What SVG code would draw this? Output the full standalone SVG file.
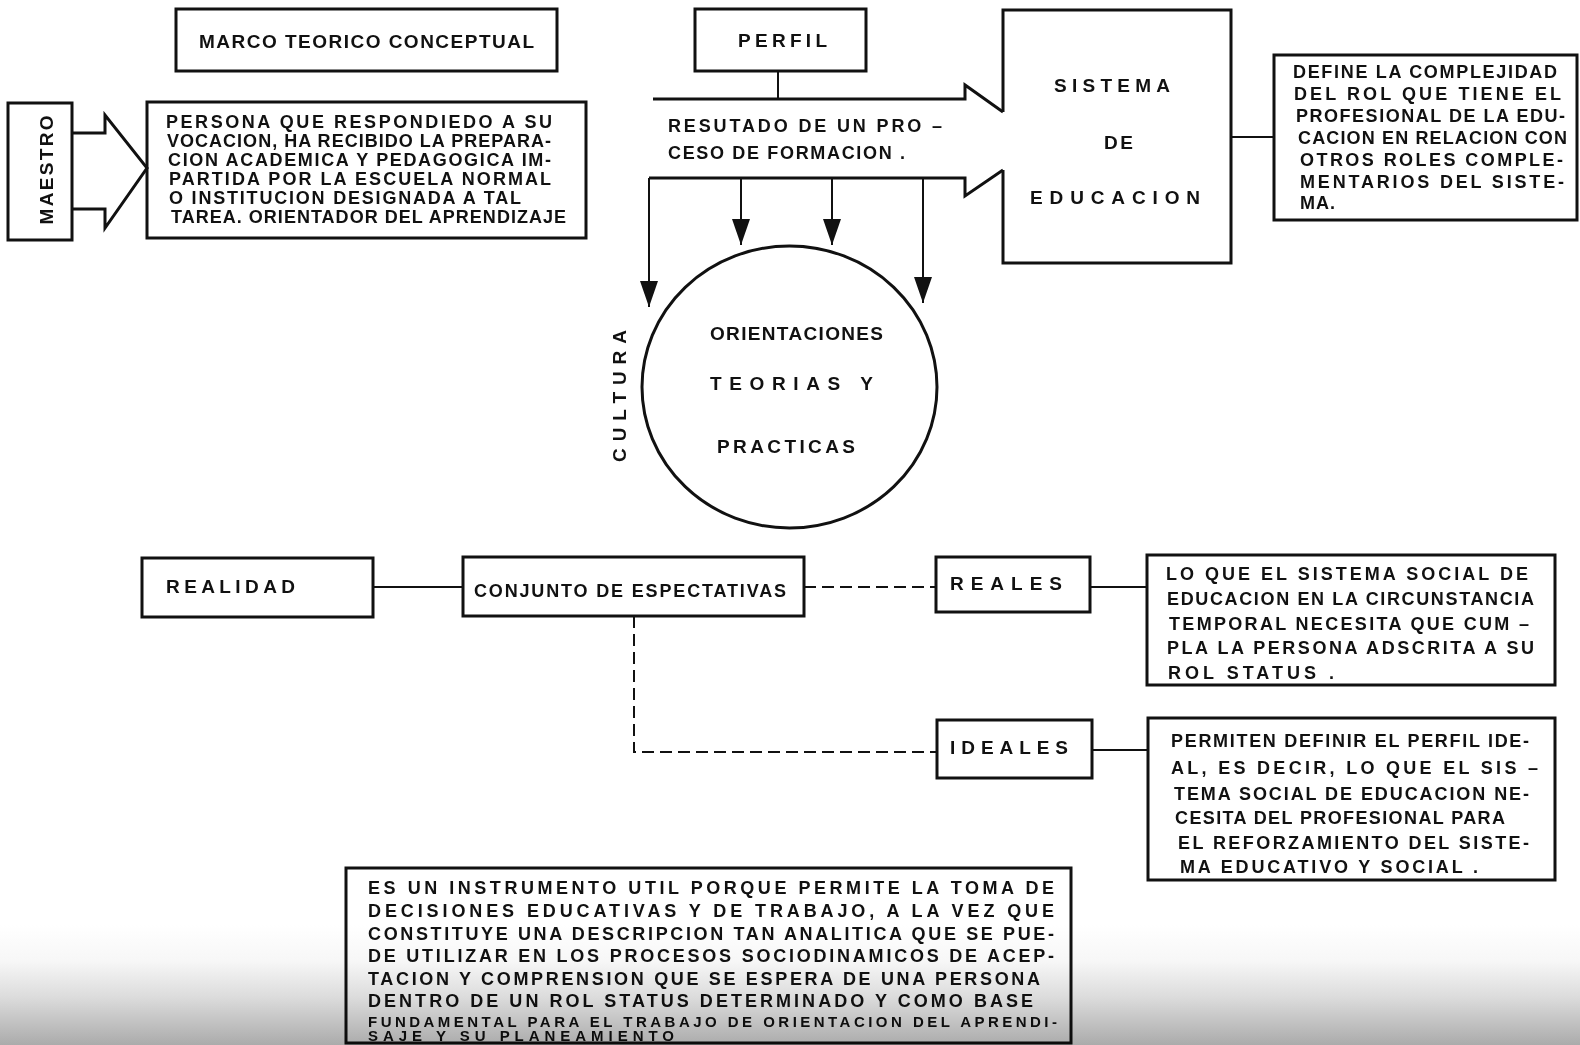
<svg xmlns="http://www.w3.org/2000/svg" width="1580" height="1045" viewBox="0 0 1580 1045">
<style>
.box{fill:none;stroke:#111;stroke-width:3}
.ln{fill:none;stroke:#111;stroke-width:2}
.band{fill:none;stroke:#111;stroke-width:3;stroke-linejoin:miter}
.dash{fill:none;stroke:#111;stroke-width:2;stroke-dasharray:12 6}
text{font-family:"Liberation Sans",Arial,sans-serif;font-weight:bold;font-size:18px;fill:#111}
.sm{font-size:15px}
.big{font-size:19px}
</style>
<defs>
<marker id="ah" viewBox="0 0 26 18" refX="26" refY="9" markerWidth="26" markerHeight="18" markerUnits="userSpaceOnUse" orient="auto">
<path d="M0,0 L26,9 L0,18 z" fill="#111"/>
</marker>
<linearGradient id="fade" gradientUnits="userSpaceOnUse" x1="0" y1="925" x2="0" y2="1045">
<stop offset="0" stop-color="#ffffff"/>
<stop offset="0.3" stop-color="#f7f7f7"/>
<stop offset="0.6" stop-color="#dcdcdc"/>
<stop offset="1" stop-color="#ababab"/>
</linearGradient>
</defs>
<rect width="1580" height="1045" fill="#fff"/>

<g id="connectors">
<path class="box" d="M72,133 H105 V115 L147,168 L105,228 V209 H72"/>
<line class="ln" x1="778" y1="71" x2="778" y2="99"/>
<path class="band" d="M653,99 H965 V85 L1003,112"/>
<path class="band" d="M1003,170 L965,196 V178 H649"/>
<line class="ln" x1="649" y1="178" x2="649" y2="307" marker-end="url(#ah)"/>
<line class="ln" x1="741" y1="178" x2="741" y2="245" marker-end="url(#ah)"/>
<line class="ln" x1="832" y1="178" x2="832" y2="245" marker-end="url(#ah)"/>
<line class="ln" x1="923" y1="178" x2="923" y2="303" marker-end="url(#ah)"/>
<line class="ln" x1="1231" y1="137" x2="1274" y2="137"/>
<line class="ln" x1="373" y1="587" x2="463" y2="587"/>
<line class="dash" x1="804" y1="587" x2="936" y2="587"/>
<path class="dash" d="M634,616 V752 H937"/>
<line class="ln" x1="1090" y1="587" x2="1147" y2="587"/>
<line class="ln" x1="1092" y1="750" x2="1148" y2="750"/>
</g>

<g id="marco">
<rect class="box" x="176" y="9" width="381" height="62"/>
<text class="big" x="199" y="48" textLength="335">MARCO  TEORICO  CONCEPTUAL</text>
</g>

<g id="perfil">
<rect class="box" x="695" y="9" width="171" height="62"/>
<text class="big" x="738" y="47" textLength="89">PERFIL</text>
<text x="668" y="132" textLength="274">RESUTADO  DE  UN  PRO –</text>
<text x="668" y="159" textLength="237">CESO  DE  FORMACION .</text>
</g>

<g id="maestro">
<rect class="box" x="8" y="103" width="64" height="137"/>
<text class="big" transform="translate(53,170) rotate(-90)" text-anchor="middle" textLength="109">MAESTRO</text>
</g>

<g id="persona">
<rect class="box" x="147" y="102" width="439" height="136"/>
<text x="166" y="128" textLength="386">PERSONA  QUE  RESPONDIEDO  A  SU</text>
<text x="167" y="147" textLength="384">VOCACION, HA RECIBIDO LA PREPARA-</text>
<text x="168" y="166" textLength="383">CION ACADEMICA Y PEDAGOGICA IM-</text>
<text x="169" y="185" textLength="382">PARTIDA POR LA ESCUELA NORMAL</text>
<text x="169" y="204" textLength="352">O INSTITUCION DESIGNADA A TAL</text>
<text x="171" y="223" textLength="395">TAREA. ORIENTADOR  DEL APRENDIZAJE</text>
</g>

<g id="sistema">
<path class="box" d="M1003,112 V10 H1231 V263 H1003 V170"/>
<text class="big" x="1054" y="92" textLength="116">SISTEMA</text>
<text class="big" x="1104" y="149" textLength="29">DE</text>
<text class="big" x="1030" y="204" textLength="170">EDUCACION</text>
</g>

<g id="define">
<rect class="box" x="1274" y="55" width="303" height="165"/>
<text x="1293" y="78" textLength="264">DEFINE  LA  COMPLEJIDAD</text>
<text x="1294" y="100" textLength="267">DEL  ROL  QUE  TIENE EL</text>
<text x="1296" y="122" textLength="269">PROFESIONAL DE LA EDU-</text>
<text x="1298" y="144" textLength="269">CACION EN RELACION CON</text>
<text x="1300" y="166" textLength="263">OTROS ROLES  COMPLE-</text>
<text x="1300" y="188" textLength="264">MENTARIOS  DEL  SISTE-</text>
<text x="1300" y="209" textLength="35">MA.</text>
</g>

<g id="orientaciones">
<ellipse cx="789.5" cy="387" rx="147.5" ry="141" fill="none" stroke="#111" stroke-width="3"/>
<text class="big" x="710" y="340" textLength="173">ORIENTACIONES</text>
<text class="big" x="710" y="390" textLength="163">TEORIAS    Y</text>
<text class="big" x="717" y="453" textLength="138">PRACTICAS</text>
</g>

<g id="cultura">
<text class="big" transform="translate(626,396) rotate(-90)" text-anchor="middle" textLength="132">CULTURA</text>
</g>

<g id="realidad">
<rect class="box" x="142" y="558" width="231" height="59"/>
<text class="big" x="166" y="593" textLength="129">REALIDAD</text>
</g>

<g id="conjunto">
<rect class="box" x="463" y="557" width="341" height="59"/>
<text x="474" y="597" textLength="312">CONJUNTO  DE  ESPECTATIVAS</text>
</g>

<g id="reales">
<rect class="box" x="936" y="557" width="154" height="55"/>
<text class="big" x="950" y="590" textLength="112">REALES</text>
</g>

<g id="reales-def">
<rect class="box" x="1147" y="555" width="408" height="130"/>
<text x="1166" y="580" textLength="362">LO  QUE  EL  SISTEMA   SOCIAL  DE</text>
<text x="1167" y="605" textLength="367">EDUCACION  EN  LA  CIRCUNSTANCIA</text>
<text x="1169" y="630" textLength="360">TEMPORAL  NECESITA  QUE  CUM –</text>
<text x="1167" y="654" textLength="367">PLA  LA  PERSONA   ADSCRITA  A SU</text>
<text x="1168" y="679" textLength="166">ROL   STATUS .</text>
</g>

<g id="ideales">
<rect class="box" x="937" y="720" width="155" height="58"/>
<text class="big" x="950" y="754" textLength="118">IDEALES</text>
</g>

<g id="ideales-def">
<rect class="box" x="1148" y="718" width="407" height="162"/>
<text x="1171" y="747" textLength="358">PERMITEN  DEFINIR EL PERFIL  IDE-</text>
<text x="1171" y="774" textLength="367">AL, ES  DECIR, LO  QUE  EL SIS  –</text>
<text x="1174" y="800" textLength="355">TEMA SOCIAL  DE  EDUCACION NE-</text>
<text x="1175" y="824" textLength="330">CESITA  DEL PROFESIONAL  PARA</text>
<text x="1178" y="849" textLength="351">EL  REFORZAMIENTO  DEL  SISTE-</text>
<text x="1180" y="873" textLength="298">MA  EDUCATIVO  Y  SOCIAL .</text>
</g>

<g id="instrumento">
<rect class="box" x="346" y="868" width="725" height="175"/>
<text x="368" y="894" textLength="686">ES  UN  INSTRUMENTO  UTIL PORQUE  PERMITE  LA   TOMA  DE</text>
<text x="368" y="917" textLength="686">DECISIONES  EDUCATIVAS   Y   DE   TRABAJO, A  LA   VEZ  QUE</text>
<text x="368" y="940" textLength="686">CONSTITUYE  UNA  DESCRIPCION  TAN  ANALITICA  QUE  SE  PUE-</text>
<text x="368" y="962" textLength="686">DE  UTILIZAR  EN  LOS  PROCESOS  SOCIODINAMICOS  DE  ACEP-</text>
<text x="368" y="985" textLength="672">TACION  Y  COMPRENSION  QUE  SE  ESPERA  DE  UNA  PERSONA</text>
<text x="368" y="1007" textLength="665">DENTRO  DE  UN  ROL  STATUS  DETERMINADO  Y  COMO  BASE</text>
<text class="sm" x="368" y="1027" textLength="689">FUNDAMENTAL  PARA  EL  TRABAJO  DE  ORIENTACION  DEL  APRENDI-</text>
<text class="sm" x="368" y="1041" textLength="306">SAJE  Y  SU  PLANEAMIENTO</text>
</g>

<rect x="0" y="925" width="1580" height="120" fill="url(#fade)" style="mix-blend-mode:multiply"/>
</svg>
